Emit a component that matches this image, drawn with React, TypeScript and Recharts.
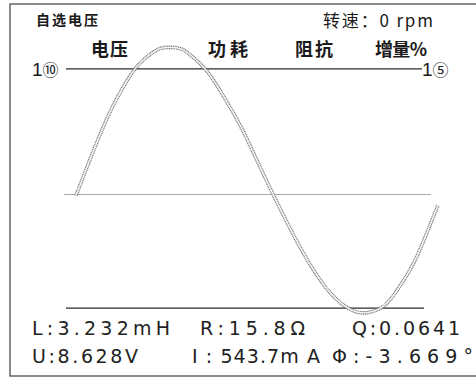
import { LineChart, Line, XAxis, YAxis, ReferenceLine } from "recharts";

/* ---------- waveform samples ---------- */

const sampleT = [0, 12, 24, 34, 44, 59, 74, 84, 94, 104, 114, 129, 144, 164, 179, 196, 209, 224, 239, 254, 272, 289, 302, 314, 334, 348, 362];
const waveV = [-6, 20, 45, 64, 80, 100, 112, 117, 118, 117, 112, 100, 82, 53, 27, -3, -25, -49, -70, -87, -100, -104, -101, -93, -68, -43, -14];

/* ---------- guide lines ---------- */

const guideLevels = [100, -5, -100];
const guideStart = [-10, -12, -10];
const guideEnd = [346, 355, 348];
const guideColors = ["#2b2b2b", "#aaaaaa", "#2b2b2b"];

/* ---------- labels ---------- */

const columnHeads = ["电压", "功耗", "阻抗", "增量%"];
const readoutsTop = ["L:3.232mH", "R:15.8Ω", "Q:0.0641"];
const readoutsBottom = ["U:8.628V", "I : 543.7m A", "Φ:-3.669°"];

const data = sampleT.map((t, i) => ({ t, v: waveV[i] }));

const CJK = '"Noto Sans CJK SC", "Noto Sans", sans-serif';
const LATIN = '"Liberation Sans", Arial, "Noto Sans CJK SC", sans-serif';
const READOUT = '"DejaVu Sans", "Liberation Sans", sans-serif';

export default function App() {
  const headX = [91, 208, 295, 375];
  const headLen = [37, 40, 38, 52];
  const rowX = [32, 200, 352];
  const rowLen = [138, 105, 108];
  const row2X = [32, 192, 332];
  const row2Len = [106, 128, 141];

  return (
    <div style={{ position: "absolute", left: 0, top: 0, width: 476, height: 379, background: "#fff" }}>
      <LineChart
        width={476}
        height={379}
        data={data}
        margin={{ top: 33, right: 25, bottom: 35, left: 61 }}
      >
        <XAxis type="number" dataKey="t" domain={[-15, 375]} hide />
        <YAxis type="number" domain={[-130, 130]} hide />
        {guideLevels.map((y, i) => (
          <ReferenceLine
            key={i}
            segment={[{ x: guideStart[i], y }, { x: guideEnd[i], y }]}
            stroke={guideColors[i]}
            strokeWidth={i === 1 ? 1 : 1.3}
          />
        ))}
        {/* double-traced waveform: grey outer stroke with a light core */}
        <Line
          type="natural"
          dataKey="v"
          stroke="#7a7a7a"
          strokeWidth={3.6}
          strokeDasharray="1.2 0.6"
          dot={false}
          isAnimationActive={false}
        />
        <Line
          type="natural"
          dataKey="v"
          stroke="#f6f6f6"
          strokeWidth={1.4}
          dot={false}
          isAnimationActive={false}
        />
      </LineChart>

      <svg
        width={476}
        height={379}
        style={{ position: "absolute", left: 0, top: 0, pointerEvents: "none" }}
      >
        <rect x={10} y={4} width={470} height={372} fill="none" stroke="#666" strokeWidth={1.5} />

        <text x={36} y={25} fontFamily={CJK} fontSize={14} fontWeight={700} fill="#1a1a1a" textLength={62} lengthAdjust="spacing">
          自选电压
        </text>
        <text x={323} y={27} fontFamily={CJK} fontSize={17} fill="#1a1a1a" textLength={110} lengthAdjust="spacing">
          转速：0 rpm
        </text>

        {columnHeads.map((h, i) => (
          <text key={h} x={headX[i]} y={56} fontFamily={CJK} fontSize={18} fontWeight={700} fill="#1a1a1a" textLength={headLen[i]} lengthAdjust="spacing">
            {h}
          </text>
        ))}

        <text x={32} y={76} fontFamily={LATIN} fontSize={19} fill="#1a1a1a">
          1<tspan fontFamily={CJK} fontSize={16}>⑩</tspan>
        </text>
        <text x={422} y={76} fontFamily={LATIN} fontSize={19} fill="#1a1a1a">
          1<tspan fontFamily={CJK} fontSize={16}>⑤</tspan>
        </text>

        {readoutsTop.map((s, i) => (
          <text key={s} x={rowX[i]} y={335} fontFamily={READOUT} fontSize={19} fill="#222" textLength={rowLen[i]} lengthAdjust="spacing">
            {s}
          </text>
        ))}
        {readoutsBottom.map((s, i) => (
          <text key={s} x={row2X[i]} y={363} fontFamily={READOUT} fontSize={19} fill="#222" textLength={row2Len[i]} lengthAdjust="spacing">
            {s}
          </text>
        ))}
      </svg>
    </div>
  );
}
